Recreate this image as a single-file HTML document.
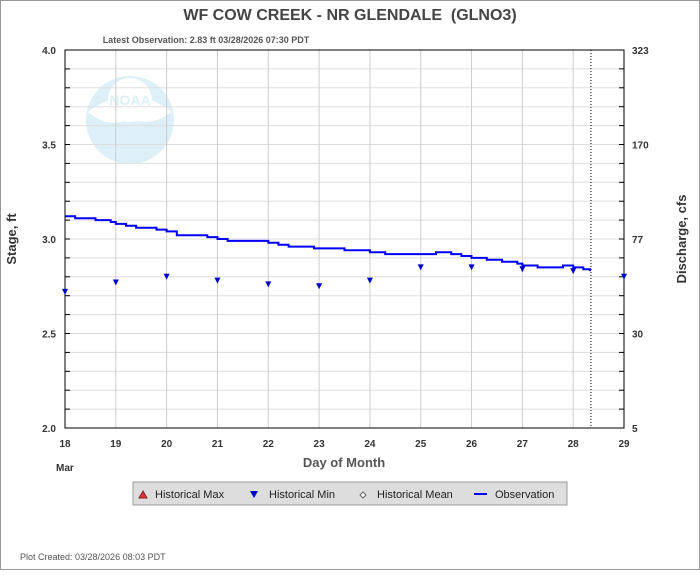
<!DOCTYPE html>
<html><head><meta charset="utf-8"><style>
body{margin:0;background:#fff;font-family:"Liberation Sans",Arial,sans-serif}
svg text{font-family:"Liberation Sans",Arial,sans-serif;white-space:pre}
</style></head><body>
<svg id="c" width="700" height="570" xmlns="http://www.w3.org/2000/svg">
<rect x="0.5" y="0.5" width="699" height="569" fill="#fff" stroke="#999"/>
<text x="350" y="20" text-anchor="middle" font-size="16" font-weight="bold" fill="#444" xml:space="preserve">WF COW CREEK - NR GLENDALE  (GLNO3)</text>
<text x="206" y="43" text-anchor="middle" font-size="9" font-weight="bold" fill="#555">Latest Observation: 2.83 ft 03/28/2026 07:30 PDT</text>
<g opacity="0.35">
<circle cx="130" cy="120" r="44" fill="#9fd3ea"/>
<path d="M88 112 Q130 80 172 112 Q150 128 130 118 Q110 130 88 112Z" fill="#fff"/>
<circle cx="130" cy="100" r="22" fill="#fff"/>
<text x="130" y="105" text-anchor="middle" font-size="14" font-weight="bold" fill="#9fd3ea">NOAA</text>
</g>
<g id="grid"></g>
<rect x="65" y="50" width="559" height="378" fill="none" stroke="#000"/>
<g id="axes"></g>
<g id="series"></g>
<text transform="translate(16,239) rotate(-90)" text-anchor="middle" font-size="13" font-weight="bold" fill="#333">Stage, ft</text>
<text transform="translate(686,239) rotate(-90)" text-anchor="middle" font-size="13" font-weight="bold" fill="#333">Discharge, cfs</text>
<text x="344" y="467" text-anchor="middle" font-size="13" font-weight="bold" fill="#555">Day of Month</text>
<text x="56" y="471" font-size="10" font-weight="bold" fill="#333">Mar</text>
<g>
<rect x="133" y="482" width="434" height="23" fill="#ddd" stroke="#999"/>
<path d="M139 498 L143 491 L147 498Z" fill="#d33" stroke="#822"/>
<text x="155" y="498" font-size="11" fill="#222">Historical Max</text>
<path d="M250 491 L258 491 L254 498Z" fill="#00c"/>
<text x="269" y="498" font-size="11" fill="#222">Historical Min</text>
<path d="M363 492 L366 495 L363 498 L360 495Z" fill="#fff" stroke="#666"/>
<text x="377" y="498" font-size="11" fill="#222">Historical Mean</text>
<line x1="474" y1="494" x2="487" y2="494" stroke="#00f" stroke-width="2"/>
<text x="495" y="498" font-size="11" fill="#222">Observation</text>
</g>
<text x="20" y="560" font-size="9" fill="#555">Plot Created: 03/28/2026 08:03 PDT</text>
</svg>
<script>
const obsDays=[18.0,18.2,18.5,18.6,18.8,18.9,19.0,19.2,19.4,19.6,19.8,20.0,20.2,20.5,20.8,21.0,21.2,21.5,21.7,22.0,22.2,22.4,22.7,22.9,23.2,23.5,23.8,24.0,24.3,24.8,25.1,25.3,25.6,25.8,26.0,26.3,26.6,26.9,27.0,27.3,27.6,27.8,28.0,28.2,28.33];
const obsStage=[3.12,3.11,3.11,3.10,3.10,3.09,3.08,3.07,3.06,3.06,3.05,3.04,3.02,3.02,3.01,3.00,2.99,2.99,2.99,2.98,2.97,2.96,2.96,2.95,2.95,2.94,2.94,2.93,2.92,2.92,2.92,2.93,2.92,2.91,2.90,2.89,2.88,2.87,2.86,2.85,2.85,2.86,2.85,2.84,2.83];
const minDays=[18,19,20,21,22,23,24,25,26,27,28,29];
const minStage=[2.72,2.77,2.80,2.78,2.76,2.75,2.78,2.85,2.85,2.84,2.83,2.80];
const xTicks=[18,19,20,21,22,23,24,25,26,27,28,29];
const yTicks=[2.0,2.5,3.0,3.5,4.0];
const yTickLabels=["2.0","2.5","3.0","3.5","4.0"];
const y2TickLabels=["5","30","77","170","323"];
const latestDay=28.35;
const NS="http://www.w3.org/2000/svg";
const X=d=>65+(d-18)*559/11;
const Y=v=>428-(v-2)*189;
function mk(p,t,a){const e=document.createElementNS(NS,t);for(const k in a)e.setAttribute(k,a[k]);p.appendChild(e);return e;}
const grid=document.getElementById('grid'),axes=document.getElementById('axes'),ser=document.getElementById('series');
for(let i=1;i<20;i++){const v=2+i*0.1;const l=mk(grid,'line',{x1:65,x2:624,y1:Y(v),y2:Y(v),stroke:'#ddd'});


const t1=mk(axes,'line',{x1:65,x2:70,y1:Y(v),y2:Y(v),stroke:'#000'});


const t2=mk(axes,'line',{x1:619,x2:624,y1:Y(v),y2:Y(v),stroke:'#000'});

}
xTicks.forEach(d=>{if(d>18&&d<29){const l=mk(grid,'line',{x1:X(d),x2:X(d),y1:50,y2:428,stroke:'#ccc'});

}
const t=mk(axes,'text',{x:X(d),y:447,'text-anchor':'middle','font-size':10,'font-weight':'bold',fill:'#333'});t.textContent=d;

});
yTicks.forEach((v,i)=>{const t=mk(axes,'text',{x:56,y:Y(v)+4,'text-anchor':'end','font-size':10,'font-weight':'bold',fill:'#333'});t.textContent=yTickLabels[i];


const t2=mk(axes,'text',{x:632,y:Y(v)+4,'font-size':10,'font-weight':'bold',fill:'#333'});t2.textContent=y2TickLabels[i];

});
const dl=mk(ser,'line',{x1:X(latestDay),x2:X(latestDay),y1:50,y2:428,stroke:'#000','stroke-dasharray':'1,2'});


let d='';obsDays.forEach((x,i)=>{d+=(i?'L':'M')+X(x).toFixed(1)+' '+Y(obsStage[i]).toFixed(1)+(i<obsDays.length-1?' H'+X(obsDays[i+1]).toFixed(1)+' ':'');});
const p=mk(ser,'path',{d:d,fill:'none',stroke:'#00f','stroke-width':2});


minDays.forEach((x,i)=>{const cx=X(x),cy=Y(minStage[i]);const m=mk(ser,'path',{d:`M${cx-3} ${cy-3}L${cx+3} ${cy-3}L${cx} ${cy+3}Z`,fill:'#00c'});

});
</script>
</body></html>
